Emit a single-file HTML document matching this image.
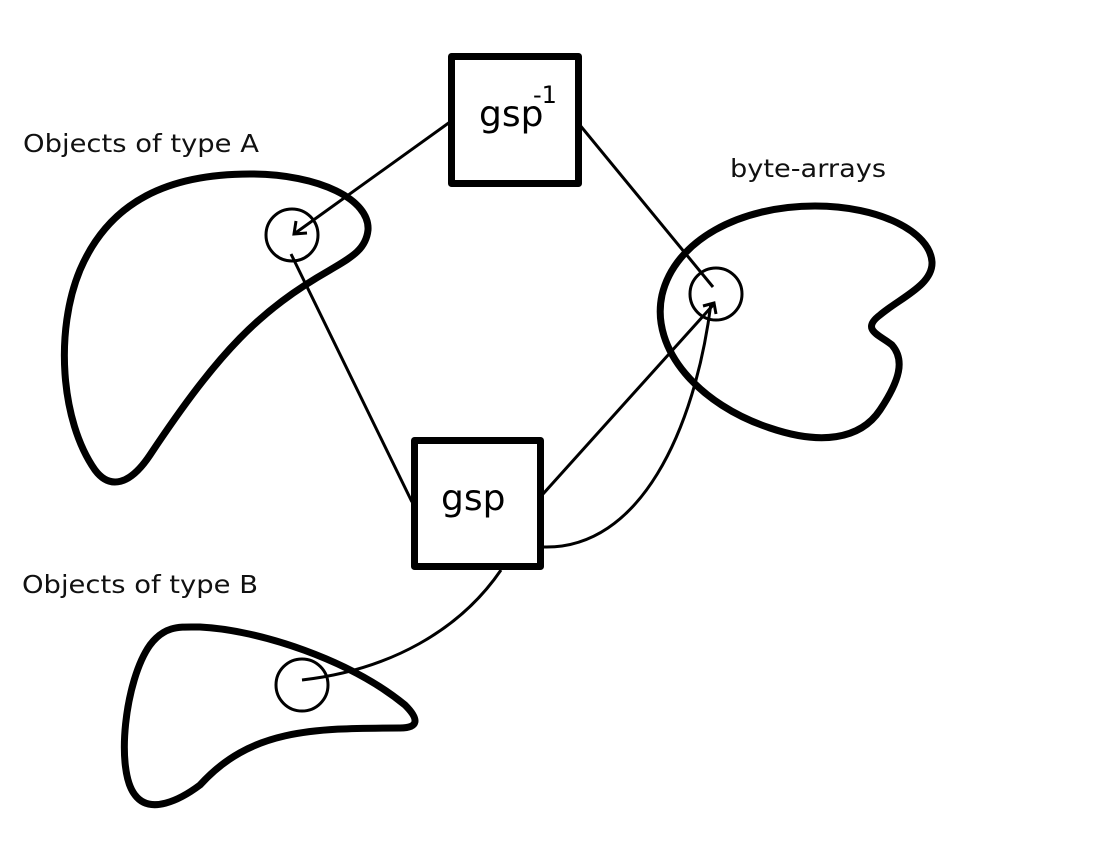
<!DOCTYPE html>
<html><head><style>html,body{margin:0;padding:0;background:#fff}svg{display:block}</style></head><body>
<svg width="1104" height="844" viewBox="0 0 1104 844" xmlns="http://www.w3.org/2000/svg" font-family="DejaVu Sans, sans-serif">
<g fill="none" stroke="#000" stroke-width="7" stroke-linejoin="round">
<path d="M250,174 C320,174 370,200 368,230 C366,250 350,258 330,270 C260,310 220,350 150,455 C130,485 110,490 95,470 C60,420 55,330 80,270 C110,200 170,174 250,174 Z"/>
<path d="M815,206 C880,206 930,232 932,262 C933,285 900,298 880,315 C860,330 880,335 892,345 C905,360 900,380 880,410 C860,440 820,445 770,428 C700,405 650,350 662,295 C675,240 740,206 815,206 Z"/>
<path d="M200,627 C260,630 350,660 405,705 C420,720 418,728 400,728 C310,728 250,730 200,785 C180,800 150,815 135,795 C115,770 125,680 150,645 C165,625 180,627 200,627 Z"/>
<rect x="451.5" y="56.5" width="127" height="127"/>
<rect x="414.5" y="440.5" width="126" height="126"/>
</g>
<g fill="none" stroke="#000" stroke-width="3">
<circle cx="292" cy="235" r="26"/>
<circle cx="716" cy="294" r="26"/>
<circle cx="302" cy="685" r="26"/>
<line x1="450" y1="122" x2="294" y2="234"/>
<polyline points="296,221 294,234 307,233"/>
<line x1="579" y1="124" x2="713" y2="287"/>
<line x1="291" y1="254" x2="412" y2="502"/>
<line x1="543" y1="494" x2="714" y2="304"/>
<path d="M543,547 C640,550 695,430 711,303"/>
<polyline points="703,306 714,303 716,314"/>
<path d="M501,570 C460,630 390,670 302,680"/>
</g>
<g fill="#000">
<text x="479" y="126" font-size="36">gsp</text>
<text x="533" y="103" font-size="24">-1</text>
<text x="441" y="510" font-size="36">gsp</text>
<text x="23" y="152" font-size="25" fill="#111" textLength="236" lengthAdjust="spacingAndGlyphs">Objects of type A</text>
<text x="730" y="177" font-size="25" fill="#111" textLength="156" lengthAdjust="spacingAndGlyphs">byte-arrays</text>
<text x="22" y="593" font-size="25" fill="#111" textLength="236" lengthAdjust="spacingAndGlyphs">Objects of type B</text>
</g>
</svg>
</body></html>
